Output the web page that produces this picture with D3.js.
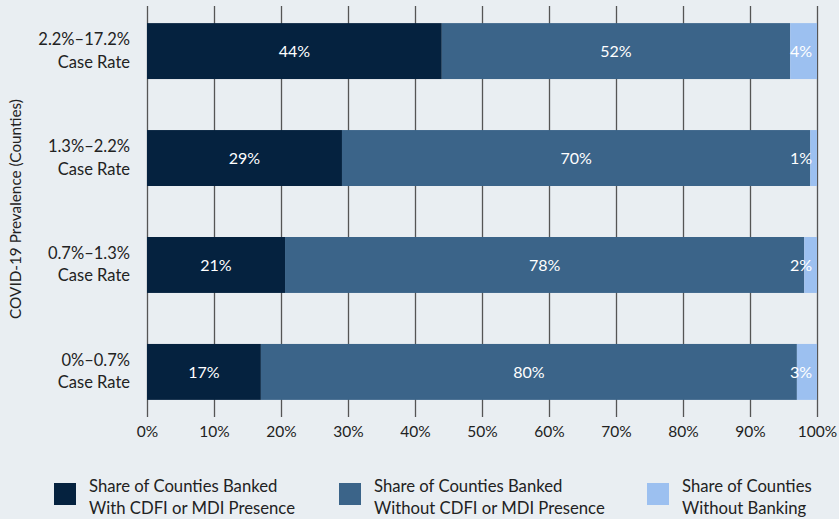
<!DOCTYPE html>
<html>
<head>
<meta charset="utf-8">
<script src="https://cdn.jsdelivr.net/npm/d3@7"></script>
<style>
  html, body { margin: 0; padding: 0; background: #e9eef2; }
  svg { display: block; font-family: Lato, "Open Sans", sans-serif; }
</style>
</head>
<body>
<svg id="chart" width="839" height="519"></svg>
<script>
const categories = [
  ["2.2%\u201317.2%", "Case Rate"],
  ["1.3%\u20132.2%", "Case Rate"],
  ["0.7%\u20131.3%", "Case Rate"],
  ["0%\u20130.7%", "Case Rate"]
];
const seriesNames = [
  ["Share of Counties Banked", "With CDFI or MDI Presence"],
  ["Share of Counties Banked", "Without CDFI or MDI Presence"],
  ["Share of Counties", "Without Banking"]
];
const withCDFI = [44.0, 29.1, 20.6, 17.0];
const withoutCDFI = [52.0, 69.9, 77.5, 80.0];
const noBanking = [4.0, 1.0, 1.9, 3.0];
const tickValues = [0, 10, 20, 30, 40, 50, 60, 70, 80, 90, 100];
const colors = ["#05223f", "#3b6489", "#9cc0f0"];
const yTitle = "COVID-19 Prevalence (Counties)";

const svg = d3.select("#chart");
const x = d3.scaleLinear().domain([0, 100]).range([147, 817]);
const y = d3.scaleBand().domain(d3.range(categories.length)).range([6, 417])
  .paddingInner(0.477).paddingOuter(0.16);

// gridlines + tick marks
const xAxis = d3.axisBottom(x).tickValues(tickValues).tickFormat(d => d + "%")
  .tickSize(411).tickPadding(9);
const ax = svg.append("g").attr("transform", "translate(0,6)").call(xAxis);
ax.select(".domain").remove();
ax.selectAll(".tick line").attr("stroke", "#555").attr("stroke-width", 1.3);
ax.selectAll(".tick text").attr("fill", "#222").style("font-size", "15.5px")
  .style("font-family", "Lato, sans-serif");

// stacked data
const rows = categories.map((c, i) => ({ i, vals: [withCDFI[i], withoutCDFI[i], noBanking[i]] }));
const segs = [];
rows.forEach(r => {
  let acc = 0;
  r.vals.forEach((v, k) => { segs.push({ i: r.i, k, x0: acc, x1: acc + v, v }); acc += v; });
});

svg.append("g").selectAll("rect").data(segs).join("rect")
  .attr("x", d => x(d.x0)).attr("width", d => x(d.x1) - x(d.x0))
  .attr("y", d => y(d.i)).attr("height", y.bandwidth())
  .attr("fill", d => colors[d.k]);

svg.append("g").selectAll("text").data(segs).join("text")
  .attr("x", d => d.v < 5 ? x(d.x1) - 5 : (x(d.x0) + x(d.x1)) / 2)
  .attr("y", d => y(d.i) + y.bandwidth() / 2)
  .attr("dy", "0.35em").attr("text-anchor", d => d.v < 5 ? "end" : "middle")
  .attr("fill", "#ffffff").style("font-size", "16px")
  .text(d => Math.round(d.v) + "%");

// category labels
const cl = svg.append("g").selectAll("text").data(categories).join("text")
  .attr("text-anchor", "end").attr("fill", "#222").style("font-size", "16.5px")
  .attr("x", 130)
  .attr("y", (d, i) => y(i) + y.bandwidth() / 2);
cl.selectAll("tspan").data(d => d).join("tspan")
  .attr("x", 130)
  .attr("dy", (d, j) => j === 0 ? "-0.38em" : "1.38em")
  .text(d => d);

// y title
svg.append("text")
  .attr("transform", `translate(21,209) rotate(-90)`)
  .attr("text-anchor", "middle").attr("fill", "#222").style("font-size", "15.3px")
  .text(yTitle);

// legend
const legX = [54, 339, 647];
const lg = svg.append("g").selectAll("g").data(seriesNames).join("g")
  .attr("transform", (d, i) => `translate(${legX[i]},483)`);
lg.append("rect").attr("width", 22).attr("height", 22).attr("fill", (d, i) => colors[i]);
const lt = lg.append("text").attr("x", 35).attr("y", 9).attr("fill", "#222").style("font-size", "16.7px");
lt.selectAll("tspan").data(d => d).join("tspan")
  .attr("x", 35).attr("dy", (d, j) => j === 0 ? "0" : "1.3em").text(d => d);
</script>
</body>
</html>
